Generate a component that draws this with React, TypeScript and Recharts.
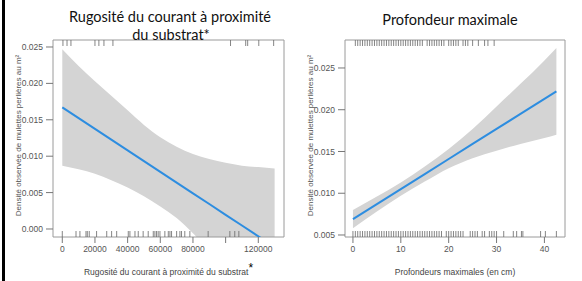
import React from "react";
import {
  ComposedChart,
  Area,
  Line,
  Scatter,
  XAxis,
  YAxis,
  ReferenceArea,
} from "recharts";

// Rugosité panel
const rugoX = [0, 10000, 20000, 30000, 40000, 50000, 60000, 70000, 80000, 90000, 100000, 110000, 120000, 130000];
const rugoFit = [0.0167, 0.01523, 0.01375, 0.01228, 0.0108, 0.00933, 0.00785, 0.00638, 0.0049, 0.00343, 0.00195, 0.00048, -0.001, -0.00248];
const rugoUpper = [0.0247, 0.0224, 0.0203, 0.0183, 0.0163, 0.0143, 0.0126, 0.0113, 0.0103, 0.0096, 0.0091, 0.0087, 0.0085, 0.0083];
const rugoLower = [0.0087, 0.0082, 0.0076, 0.0067, 0.0057, 0.0045, 0.0031, 0.0015, -0.0006, -0.003, -0.0055, -0.008, -0.0105, -0.0133];
const rugoRugTop = [400, 2900, 5300, 20000, 22400, 25500, 31000, 103000, 112300, 113500, 120300, 129400];
const rugoRugBottom = [
  0, 8400, 10800, 14500, 15300, 16500, 21000, 27200, 30200, 33300, 40400, 41400, 44500, 46500,
  49500, 52600, 55700, 56700, 57700, 58700, 59800, 62800, 64900, 65900, 66900, 70000, 72000,
  73000, 75000, 78100, 89300, 102600, 105600, 108100,
];
const rugoXTicks = [0, 20000, 40000, 60000, 80000, 100000, 120000];
const rugoYTicks = [0, 0.005, 0.01, 0.015, 0.02, 0.025];

// Profondeur panel
const profX = [0, 5, 10, 15, 20, 25, 30, 35, 40, 42.5];
const profFit = [0.0069, 0.0087, 0.0105, 0.0123, 0.0141, 0.0159, 0.0177, 0.0195, 0.0213, 0.0222];
const profUpper = [0.008, 0.0096, 0.0113, 0.0132, 0.0153, 0.0177, 0.0204, 0.0231, 0.0259, 0.0274];
const profLower = [0.0058, 0.0078, 0.0097, 0.0114, 0.013, 0.0142, 0.0151, 0.0159, 0.0166, 0.017];
const profRugTop = [
  0.5, 1, 1.5, 2, 2.5, 3, 3.5, 4, 4.5, 5, 5.5, 6, 6.5, 7, 7.5, 8, 8.5, 9, 9.5, 10, 10.5, 11, 11.5,
  12, 12.5, 13, 13.5, 14, 14.5, 15.5, 16, 16.5, 17, 17.5, 18, 18.5, 19, 20, 20.5, 21, 21.5, 22,
  23, 23.5, 24, 25, 26.2, 27.5, 28.2, 29.5,
];
const profRugBottom = [
  0, 0.5, 1, 1.5, 2, 2.5, 3, 3.5, 4, 4.5, 5, 5.5, 6, 6.5, 7, 7.5, 8, 8.5, 9, 9.5, 10, 10.5, 11,
  11.5, 12, 12.5, 13, 13.5, 14, 14.5, 15, 15.5, 16, 16.5, 17, 17.5, 18, 18.5, 19.5, 20, 20.5, 21,
  21.5, 22, 22.5, 23, 24.5, 25, 25.5, 26, 27, 27.5, 28.5, 29, 29.5, 30, 31.5, 33.5, 34.2, 35.2,
  35.5, 39.2, 40.2, 42.5,
];
const profXTicks = [0, 10, 20, 30, 40];
const profYTicks = [0.005, 0.01, 0.015, 0.02, 0.025];

const Y_LABEL = "Densité observée de mulettes perlières au m²";
const AXIS_FONT = "'Liberation Sans', Arial, sans-serif";
const TICK_STYLE = { fontSize: 8.5, fill: "#555", fontFamily: AXIS_FONT };
const BAND = "#d4d4d4";
const BLUE = "#2d8de0";

function Panel({
  xs,
  fit,
  upper,
  lower,
  rugTop,
  rugBottom,
  xDomain,
  yDomain,
  xTicks,
  yTicks,
  hideX,
  xLabel,
  star,
  yAxisWidth,
  marginRight,
  yLabelX,
}: any) {
  const data = xs.map((x: number, i: number) => ({
    x,
    fit: fit[i],
    band: [lower[i], upper[i]],
  }));
  const topPts = rugTop.map((x: number) => ({ x, y: yDomain[1] }));
  const botPts = rugBottom.map((x: number) => ({ x, y: yDomain[0] }));

  return (
    <ComposedChart
      width={291}
      height={281}
      data={data}
      margin={{ top: 40, right: marginRight, bottom: 0, left: 0 }}
    >
      <XAxis
        type="number"
        dataKey="x"
        domain={xDomain}
        ticks={xTicks}
        allowDataOverflow
        axisLine={false}
        tickSize={6}
        tickMargin={3}
        height={44}
        tickLine={{ stroke: "#777" }}
        tick={TICK_STYLE}
        interval={0}
        tickFormatter={(v: number) => (hideX.includes(v) ? "" : String(v))}
        label={(p: any) => {
          const vb = p.viewBox || {};
          return (
            <text
              x={vb.x + vb.width / 2}
              y={vb.y + 38}
              textAnchor="middle"
              fontFamily={AXIS_FONT}
              fontSize={8.5}
              fill="#444"
            >
              {xLabel}
              {star ? (
                <tspan fill="#000" fontSize={12} dy={-3}>
                  *
                </tspan>
              ) : null}
            </text>
          );
        }}
      />
      <YAxis
        type="number"
        domain={yDomain}
        ticks={yTicks}
        allowDataOverflow
        axisLine={false}
        width={yAxisWidth}
        tickSize={7}
        tickMargin={3}
        tickLine={{ stroke: "#777" }}
        tick={TICK_STYLE}
        interval={0}
        tickFormatter={(v: number) => v.toFixed(3)}
        label={(p: any) => {
          const vb = p.viewBox || {};
          const cy = vb.y + vb.height / 2 - 3;
          return (
            <text
              x={yLabelX}
              y={cy}
              transform={`rotate(-90 ${yLabelX} ${cy})`}
              textAnchor="middle"
              dominantBaseline="central"
              fontFamily={AXIS_FONT}
              fontSize={8}
              fill="#555"
            >
              {Y_LABEL}
            </text>
          );
        }}
      />
      <Area
        dataKey="band"
        type="monotone"
        stroke="none"
        fill={BAND}
        fillOpacity={1}
        isAnimationActive={false}
        activeDot={false}
      />
      <ReferenceArea
        x1={xDomain[0]}
        x2={xDomain[1]}
        y1={yDomain[0]}
        y2={yDomain[1]}
        fill="none"
        stroke="#9a9a9a"
        strokeWidth={1}
        ifOverflow="visible"
      />
      <Line
        dataKey="fit"
        type="linear"
        stroke={BLUE}
        strokeWidth={2}
        dot={false}
        activeDot={false}
        isAnimationActive={false}
      />
      <Scatter
        data={topPts}
        dataKey="y"
        isAnimationActive={false}
        shape={(p: any) => (
          <line x1={p.cx} x2={p.cx} y1={p.cy} y2={p.cy + 6} stroke="#666" strokeWidth={0.8} />
        )}
      />
      <Scatter
        data={botPts}
        dataKey="y"
        isAnimationActive={false}
        shape={(p: any) => (
          <line x1={p.cx} x2={p.cx} y1={p.cy} y2={p.cy - 6} stroke="#666" strokeWidth={0.8} />
        )}
      />
    </ComposedChart>
  );
}

export default function App() {
  return (
    <div
      style={{
        position: "absolute",
        left: 0,
        top: 0,
        width: 582,
        height: 281,
        background: "#fff",
        overflow: "hidden",
      }}
    >
      <div style={{ position: "absolute", left: 0, top: 0 }}>
        <Panel
          xs={rugoX}
          fit={rugoFit}
          upper={rugoUpper}
          lower={rugoLower}
          rugTop={rugoRugTop}
          rugBottom={rugoRugBottom}
          xDomain={[-5690, 135740]}
          yDomain={[-0.0011, 0.02596]}
          xTicks={rugoXTicks}
          yTicks={rugoYTicks}
          hideX={[100000]}
          xLabel="Rugosité du courant à proximité du substrat"
          star
          yAxisWidth={53}
          marginRight={7}
          yLabelX={18}
        />
      </div>
      <div style={{ position: "absolute", left: 291, top: 0 }}>
        <Panel
          xs={profX}
          fit={profFit}
          upper={profUpper}
          lower={profLower}
          rugTop={profRugTop}
          rugBottom={profRugBottom}
          xDomain={[-1.66, 44.3]}
          yDomain={[0.00476, 0.02835]}
          xTicks={profXTicks}
          yTicks={profYTicks}
          hideX={[]}
          xLabel="Profondeurs maximales (en cm)"
          star={false}
          yAxisWidth={54}
          marginRight={17}
          yLabelX={19}
        />
      </div>
      <svg
        width={582}
        height={281}
        style={{ position: "absolute", left: 0, top: 0, pointerEvents: "none" }}
      >
        <rect x={2} y={0} width={3} height={281} fill="#000" />
        <g fontFamily="Lato, 'Open Sans', sans-serif" fontSize={14.5} fill="#111" textAnchor="middle">
          <text x={170} y={22}>Rugosité du courant à proximité</text>
          <text x={171} y={39.5}>du substrat*</text>
          <text x={450} y={25}>Profondeur maximale</text>
        </g>
      </svg>
    </div>
  );
}
